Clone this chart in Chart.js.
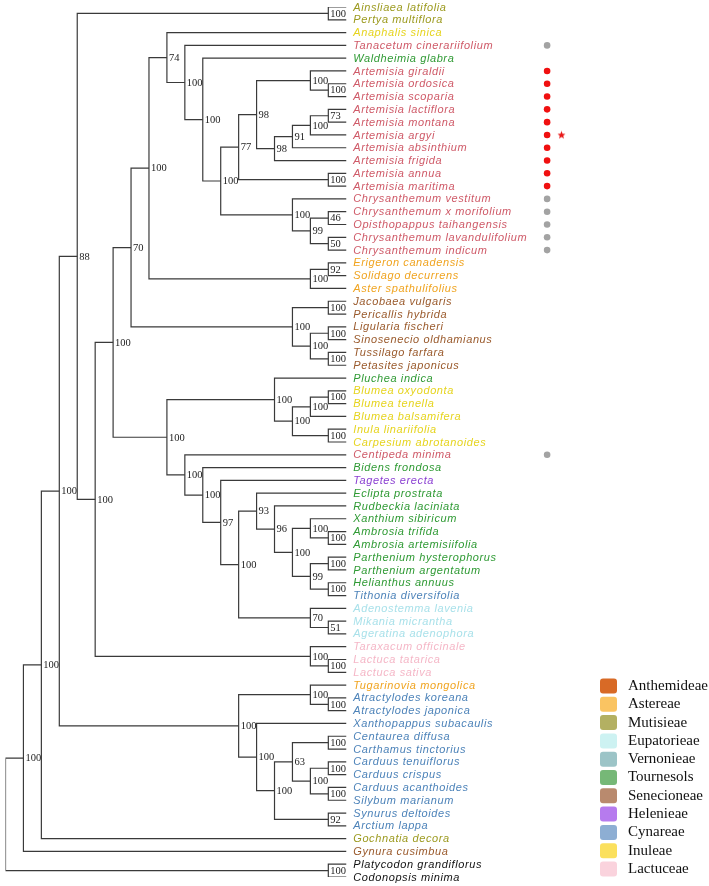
<!DOCTYPE html>
<html>
<head>
<meta charset="utf-8">
<script src="https://cdn.jsdelivr.net/npm/chart.js@4.4.1/dist/chart.umd.min.js"></script>
<style>
  html, body { margin: 0; padding: 0; background: #fff; }
  #wrap { width: 709px; height: 886px; position: relative; }
</style>
</head>
<body>
<div id="wrap"><canvas id="tree"></canvas></div>
<script>
// ---------- TAXA (top -> bottom) ----------
const taxa = [
  "Ainsliaea latifolia", "Pertya multiflora", "Anaphalis sinica", "Tanacetum cinerariifolium",
  "Waldheimia glabra", "Artemisia giraldii", "Artemisia ordosica", "Artemisia scoparia",
  "Artemisia lactiflora", "Artemisia montana", "Artemisia argyi", "Artemisia absinthium",
  "Artemisia frigida", "Artemisia annua", "Artemisia maritima", "Chrysanthemum vestitum",
  "Chrysanthemum x morifolium", "Opisthopappus taihangensis", "Chrysanthemum lavandulifolium",
  "Chrysanthemum indicum", "Erigeron canadensis", "Solidago decurrens", "Aster spathulifolius",
  "Jacobaea vulgaris", "Pericallis hybrida", "Ligularia fischeri", "Sinosenecio oldhamianus",
  "Tussilago farfara", "Petasites japonicus", "Pluchea indica", "Blumea oxyodonta",
  "Blumea tenella", "Blumea balsamifera", "Inula linariifolia", "Carpesium abrotanoides",
  "Centipeda minima", "Bidens frondosa", "Tagetes erecta", "Eclipta prostrata",
  "Rudbeckia laciniata", "Xanthium sibiricum", "Ambrosia trifida", "Ambrosia artemisiifolia",
  "Parthenium hysterophorus", "Parthenium argentatum", "Helianthus annuus", "Tithonia diversifolia",
  "Adenostemma lavenia", "Mikania micrantha", "Ageratina adenophora", "Taraxacum officinale",
  "Lactuca tatarica", "Lactuca sativa", "Tugarinovia mongolica", "Atractylodes koreana",
  "Atractylodes japonica", "Xanthopappus subacaulis", "Centaurea diffusa", "Carthamus tinctorius",
  "Carduus tenuiflorus", "Carduus crispus", "Carduus acanthoides", "Silybum marianum",
  "Synurus deltoides", "Arctium lappa", "Gochnatia decora", "Gynura cusimbua",
  "Platycodon grandiflorus", "Codonopsis minima"
];

// label colour group of each taxon
const taxonGroup = ("MMIAT" + "AAAAAAAAAAAAAAA" + "SSS" + "EEEEEE" + "T" + "IIIII" + "A" + "T" + "H" +
  "TTTTTTTT" + "C" + "UUU" + "LLL" + "S" + "CCCCCCCCCCC" + "M" + "E" + "KK").split("");

const groupTextColor = {
  M: "#9c9a1f", I: "#e6d41e", A: "#cf5a68", T: "#2f9a34", S: "#f0a420", E: "#9a5a2c",
  H: "#8a3fd2", C: "#4d83b9", U: "#a9e1ea", L: "#f5b7c7", K: "#111111"
};

// ---------- TREE (leaf indices, bootstrap as node labels) ----------
const cladeArtemisia = "(((5,(6,7)100)100,((((8,9)73,10)100,11)91,12)98)98,(13,14)100)77";
const cladeChrysanthemum = "(15,((16,17)46,(18,19)50)99)100";
const cladeAnthemideae = "(2,(3,(4,(" + cladeArtemisia + "," + cladeChrysanthemum + ")100)100)100)74";
const cladeAstereae = "((20,21)92,22)100";
const cladeSenecioneae = "((23,24)100,((25,26)100,(27,28)100)100)100";
const cladeInuleae = "(29,(((30,31)100,32)100,(33,34)100)100)100";
const cladeHeliantheae = "(35,(36,(37,((38,(39,((40,(41,42)100)100,((43,44)100,(45,46)100)99)100)96)93,(47,(48,49)51)70)100)97)100)100";
const cladeLactuceae = "(50,(51,52)100)100";
const cladeCynareae = "((53,(54,55)100)100,(56,(((57,58)100,((59,60)100,(61,62)100)100)63,(63,64)92)100)100)100";

const newick =
  "((((((0,1)100,((((" + cladeAnthemideae + "," + cladeAstereae + ")100," + cladeSenecioneae + ")70,(" +
  cladeInuleae + "," + cladeHeliantheae + ")100)100," + cladeLactuceae + ")100)88," + cladeCynareae +
  ")100,65)100,66)100,(67,68)100);";

// ---------- MARKS ----------
const grayDots = [3, 15, 16, 17, 18, 19, 35];
const redDots = [5, 6, 7, 8, 9, 10, 11, 12, 13, 14];
const starred = [10];

// ---------- LEGEND ----------
const tribes = ["Anthemideae", "Astereae", "Mutisieae", "Eupatorieae", "Vernonieae", "Tournesols",
  "Senecioneae", "Helenieae", "Cynareae", "Inuleae", "Lactuceae"];
const tribeColors = ["#d86a26", "#fac462", "#b3b062", "#cdf2f2", "#9cc4c7", "#76b877",
  "#b98a6e", "#b67bee", "#8daed3", "#fbe05d", "#fad3dd"];

// ---------- PARSE + LAYOUT ----------
function parseNewick(s) {
  let i = 0;
  function node() {
    const n = { children: [] };
    if (s[i] === "(") {
      i++;
      n.children.push(node());
      while (s[i] === ",") { i++; n.children.push(node()); }
      i++;
    }
    let tok = "";
    while (i < s.length && !",();".includes(s[i])) tok += s[i++];
    if (n.children.length) n.support = tok; else n.leaf = +tok;
    return n;
  }
  return node();
}

function measure(n) {
  if (!n.children.length) { n.h = 0; n.y = n.leaf; return; }
  n.children.forEach(measure);
  n.h = 1 + Math.max(...n.children.map(c => c.h));
  n.y = (n.children[0].y + n.children[n.children.length - 1].y) / 2;
}

const root = parseNewick(newick);
measure(root);
const TIP = root.h;
const internals = [];
(function place(n, isRoot) {
  n.x = TIP - n.h;
  if (n.children.length) {
    n.isRoot = isRoot;
    internals.push(n);
    n.children.forEach(c => place(c, false));
  }
})(root, true);

// ---------- DATASETS ----------
const LINE = "#3a3a3a";
const datasets = internals.map(n => {
  const a = n.children[0], b = n.children[n.children.length - 1];
  return {
    data: [{ x: a.x, y: a.y }, { x: n.x, y: a.y }, { x: n.x, y: b.y }, { x: b.x, y: b.y }],
    showLine: true, borderColor: LINE, borderWidth: 1.2, pointRadius: 0, fill: false
  };
});

const MARK_COL = 30.2;
const STAR_COL = 31.0;
datasets.push({
  data: grayDots.map(i => ({ x: MARK_COL, y: i })).concat(redDots.map(i => ({ x: MARK_COL, y: i }))),
  pointRadius: 3.3, borderWidth: 0,
  pointBackgroundColor: grayDots.map(() => "#a3a3a3").concat(redDots.map(() => "#f01010"))
});

const starImg = document.createElement("canvas");
starImg.width = 9; starImg.height = 9;
(function () {
  const c = starImg.getContext("2d");
  c.fillStyle = "#e81818";
  c.beginPath();
  for (let k = 0; k < 10; k++) {
    const r = k % 2 === 0 ? 4.2 : 1.8;
    const ang = -Math.PI / 2 + k * Math.PI / 5;
    const px = 4.5 + r * Math.cos(ang), py = 4.7 + r * Math.sin(ang);
    k === 0 ? c.moveTo(px, py) : c.lineTo(px, py);
  }
  c.closePath();
  c.fill();
})();
datasets.push({
  data: starred.map(i => ({ x: STAR_COL, y: i })),
  pointStyle: starImg, pointRadius: 4.5
});

// ---------- TEXT PLUGIN ----------
const labelPlugin = {
  id: "treeLabels",
  afterDatasetsDraw(chart) {
    const { ctx, scales } = chart;
    const sx = scales.x, sy = scales.y;
    ctx.save();
    ctx.textBaseline = "middle";
    ctx.textAlign = "left";

    // taxon names
    ctx.font = "italic 11px 'Liberation Sans', Arial, sans-serif";
    ctx.letterSpacing = "0.6px";
    taxa.forEach((name, i) => {
      ctx.fillStyle = groupTextColor[taxonGroup[i]];
      ctx.fillText(name, sx.getPixelForValue(TIP) + 7, sy.getPixelForValue(i) + 0.5);
    });

    // bootstrap values
    ctx.letterSpacing = "0px";
    ctx.font = "10.5px 'Liberation Serif', 'Times New Roman', serif";
    ctx.fillStyle = "#222";
    internals.forEach(n => {
      if (n.isRoot || !n.support) return;
      ctx.fillText(n.support, sx.getPixelForValue(n.x) + 2, sy.getPixelForValue(n.y) + 0.5);
    });
    ctx.restore();
  }
};

// ---------- LEGEND PLUGIN ----------
const legendPlugin = {
  id: "tribeLegend",
  afterDraw(chart) {
    const ctx = chart.ctx;
    const left = 600, top = 686, step = 18.3;
    ctx.save();
    ctx.font = "15px 'Liberation Serif', 'Times New Roman', serif";
    ctx.textBaseline = "middle";
    tribes.forEach((t, i) => {
      const cy = top + i * step;
      ctx.fillStyle = tribeColors[i];
      ctx.beginPath();
      ctx.roundRect(left, cy - 7.5, 17, 15, 3);
      ctx.fill();
      ctx.fillStyle = "#111";
      ctx.fillText(t, left + 28, cy);
    });
    ctx.restore();
  }
};

new Chart(document.getElementById("tree"), {
  type: "scatter",
  data: { datasets },
  options: {
    responsive: true,
    maintainAspectRatio: false,
    animation: false,
    layout: { padding: { left: 3, right: 22, top: 7, bottom: 9 } },
    scales: {
      x: { type: "linear", display: false, min: 0, max: 38 },
      y: { type: "linear", display: false, min: 0, max: 68, reverse: true }
    },
    plugins: { legend: { display: false }, tooltip: { enabled: false } },
    events: []
  },
  plugins: [labelPlugin, legendPlugin]
});
</script>
</body>
</html>
